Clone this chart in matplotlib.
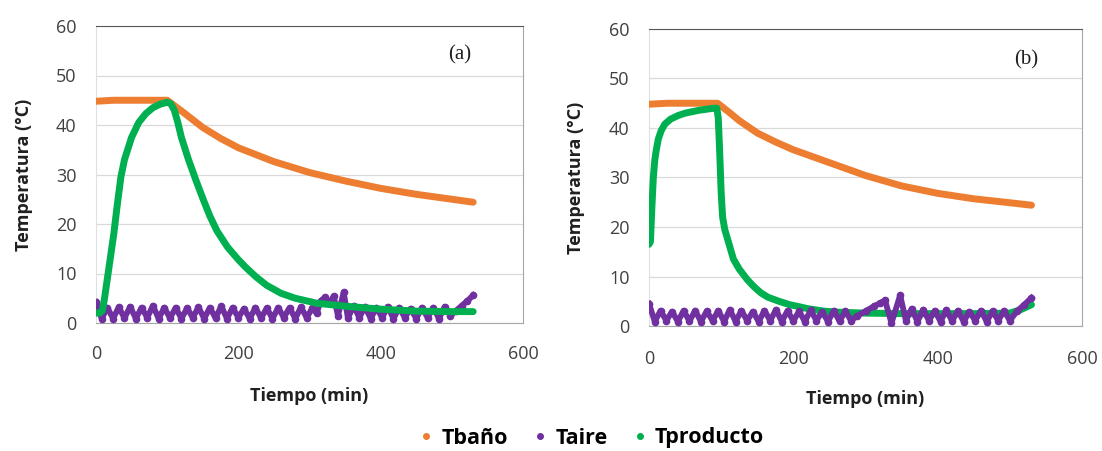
import matplotlib
matplotlib.use('Agg')
import matplotlib.pyplot as plt
from matplotlib.lines import Line2D

plt.rcParams['font.family'] = ['Open Sans', 'DejaVu Sans']

# colores tipo Excel
c_bano = '#ED7D31'
c_aire = '#7030A0'
c_prod = '#00B050'

# ---- Panel (a) ----
t_bano_a = [0, 25, 50, 75, 100, 125, 150, 175, 200, 250, 300, 350, 400, 450, 500, 530]
bano_a = [44.8, 45, 45, 45, 45, 42.3, 39.5, 37.3, 35.4, 32.6, 30.4, 28.7, 27.2, 26.0, 25.0, 24.4]

t_prod_a = [0, 5, 9, 12, 16, 20, 25, 30, 35, 40, 50, 60, 70, 80, 90, 100,
            105, 110, 115, 120, 130, 140, 150, 160, 170, 185, 200, 210, 225, 240,
            260, 280, 310, 350, 400, 450, 500, 530]
prod_a = [2.0, 2.0, 2.5, 5.0, 9.0, 13.0, 18.0, 24.0, 29.5, 33.0, 37.5, 40.5, 42.3, 43.5, 44.2, 44.6,
          44.3, 43.0, 40.5, 37.5, 33.0, 29.0, 25.2, 21.6, 18.6, 15.3, 12.8, 11.3, 9.3, 7.6,
          6.0, 5.0, 4.0, 3.4, 2.8, 2.4, 2.3, 2.3]

t_aire_a = [0, 8, 16, 24, 32, 40, 48, 56, 64, 72, 80, 88, 96, 104, 112, 120, 128, 136,
            144, 152, 160, 168, 176, 184, 192, 200, 208, 216, 224, 232, 240, 248, 256,
            264, 272, 280, 288, 296, 304, 310, 316, 322, 328, 334, 340, 348, 354, 362,
            370, 378, 386, 394, 402, 410, 418, 426, 434, 442, 450, 458, 466, 474, 482,
            490, 498, 506, 514, 522, 530]
aire_a = [4.2, 0.9, 3.1, 0.9, 3.2, 1.0, 3.3, 0.9, 3.1, 1.1, 3.5, 0.9, 3.1, 1.0, 3.1, 0.9, 3.0, 1.1,
          3.2, 0.9, 3.1, 1.0, 3.4, 0.9, 3.1, 1.1, 2.9, 0.9, 3.1, 1.0, 3.0, 0.9, 3.1,
          1.1, 3.1, 0.9, 3.2, 1.1, 3.0, 2.0, 4.5, 5.2, 4.0, 5.4, 1.5, 6.2, 1.0, 3.5,
          1.1, 3.3, 0.9, 3.1, 1.1, 3.3, 0.9, 3.1, 1.1, 2.9, 0.9, 3.1, 1.1, 3.1, 0.9,
          3.3, 1.5, 2.5, 3.5, 4.5, 5.6]

# ---- Panel (b) ----
t_bano_b = [0, 25, 50, 75, 95, 110, 125, 150, 175, 200, 250, 300, 350, 400, 450, 500, 530]
bano_b = [44.8, 45, 45, 45, 45, 43.3, 41.5, 39.0, 37.2, 35.6, 33.0, 30.4, 28.3, 26.8, 25.7, 24.9, 24.4]

t_prod_b = [0, 2, 4, 6, 8, 10, 13, 17, 22, 30, 40, 50, 60, 70, 80, 90, 94, 96, 98,
            100, 102, 105, 110, 117, 125, 136, 145, 155, 165, 180, 195, 205, 220,
            243, 260, 280, 300, 350, 400, 450, 500, 515, 530]
prod_b = [16.5, 17.0, 24.0, 30.0, 33.5, 35.5, 37.8, 39.5, 40.8, 41.8, 42.5, 43.0, 43.3, 43.6, 43.8, 44.0, 44.0, 42.0, 35.0,
          27.0, 22.0, 19.5, 17.0, 13.5, 11.5, 9.4, 8.0, 6.7, 5.8, 5.0, 4.3, 4.0, 3.5,
          3.0, 2.8, 2.7, 2.6, 2.5, 2.5, 2.5, 2.6, 3.3, 4.3]

t_aire_b = [0, 8, 16, 24, 32, 40, 48, 56, 64, 72, 80, 88, 96, 104, 112, 120, 128, 136,
            144, 152, 160, 168, 176, 184, 192, 200, 208, 216, 224, 232, 240, 248, 256,
            264, 272, 280, 288, 300, 312, 320, 327, 336, 348, 356, 364, 372, 380, 388,
            396, 404, 412, 420, 428, 436, 444, 452, 460, 468, 476, 484, 492, 500, 510,
            520, 530]
aire_b = [4.5, 0.9, 3.1, 1.1, 2.9, 0.9, 3.1, 1.0, 3.1, 0.9, 3.0, 1.1, 3.1, 0.9, 3.3, 0.9, 3.1, 1.1,
          2.9, 0.9, 3.1, 1.1, 3.3, 0.9, 3.1, 1.0, 3.0, 0.9, 3.2, 1.1, 2.9, 0.9, 3.1,
          1.0, 3.0, 1.1, 2.0, 3.0, 4.0, 4.6, 5.2, 0.6, 6.2, 1.1, 3.5, 0.9, 3.3, 1.1,
          3.1, 0.9, 3.3, 1.0, 3.1, 0.9, 2.9, 1.1, 3.1, 0.9, 3.0, 1.1, 3.1, 1.1, 3.0,
          4.3, 5.7]

fig = plt.figure(figsize=(11.02, 4.51), dpi=100)
ax1 = fig.add_axes([96 / 1102, 128 / 451, 427 / 1102, 297 / 451])
ax2 = fig.add_axes([649 / 1102, 125 / 451, 433 / 1102, 297 / 451])

lw = 5
estilo_aire = dict(color=c_aire, lw=4.2, marker='o', ms=4.5, solid_joinstyle='round')

# en (a) el producto queda encima, en (b) el aire
ax1.plot(t_bano_a, bano_a, color=c_bano, lw=lw, solid_capstyle='round', zorder=3)
ax1.plot(t_aire_a, aire_a, zorder=4, **estilo_aire)
ax1.plot(t_prod_a, prod_a, color=c_prod, lw=lw, solid_capstyle='round', zorder=5)

ax2.plot(t_bano_b, bano_b, color=c_bano, lw=lw, solid_capstyle='round', zorder=3)
ax2.plot(t_prod_b, prod_b, color=c_prod, lw=lw, solid_capstyle='round', zorder=4)
ax2.plot(t_aire_b, aire_b, zorder=5, **estilo_aire)

for ax, xpad in [(ax1, 16), (ax2, 17)]:
    ax.set_xlim(0, 600)
    ax.set_ylim(0, 60)
    ax.set_xticks([0, 200, 400, 600])
    ax.set_yticks(range(0, 61, 10))
    ax.grid(axis='y', color='#d9d9d9', lw=0.9)
    ax.set_axisbelow(True)
    ax.tick_params(length=0, labelsize=13, colors='#404040')
    ax.tick_params(axis='y', pad=14)
    ax.tick_params(axis='x', pad=xpad)
    ax.spines['top'].set_color('#595959')
    ax.spines['right'].set_color('#a6a6a6')
    ax.spines['bottom'].set_color('#a6a6a6')
    ax.spines['left'].set_color('#e0e0e0')
    ax.set_ylabel('Temperatura (°C)', fontsize=13, fontweight='bold', color='#202020')
    ax.set_xlabel('Tiempo (min)', fontsize=13, fontweight='bold', color='#202020')
    ax.yaxis.set_label_coords(-0.147, 0.5)
    ax.xaxis.set_label_coords(0.5, -0.215)

fig.text(460 / 1102, 1 - 55 / 451, '(a)', family=['Liberation Serif', 'DejaVu Serif'],
         fontsize=15, ha='center', va='center', color='#202020')
fig.text(1026 / 1102, 1 - 60 / 451, '(b)', family=['Liberation Serif', 'DejaVu Serif'],
         fontsize=15, ha='center', va='center', color='#202020')

handles = [Line2D([], [], ls='none', marker='o', ms=4, color=c) for c in (c_bano, c_aire, c_prod)]
fig.legend(handles, ['Tbaño', 'Taire', 'Tproducto'], loc='center',
           bbox_to_anchor=(592 / 1102, 1 - 438 / 451), ncol=3, frameon=False,
           prop={'size': 15.5, 'weight': 'bold'}, handlelength=0.6, handletextpad=0.4,
           columnspacing=1.2)

fig.savefig('out.png', dpi=100)
